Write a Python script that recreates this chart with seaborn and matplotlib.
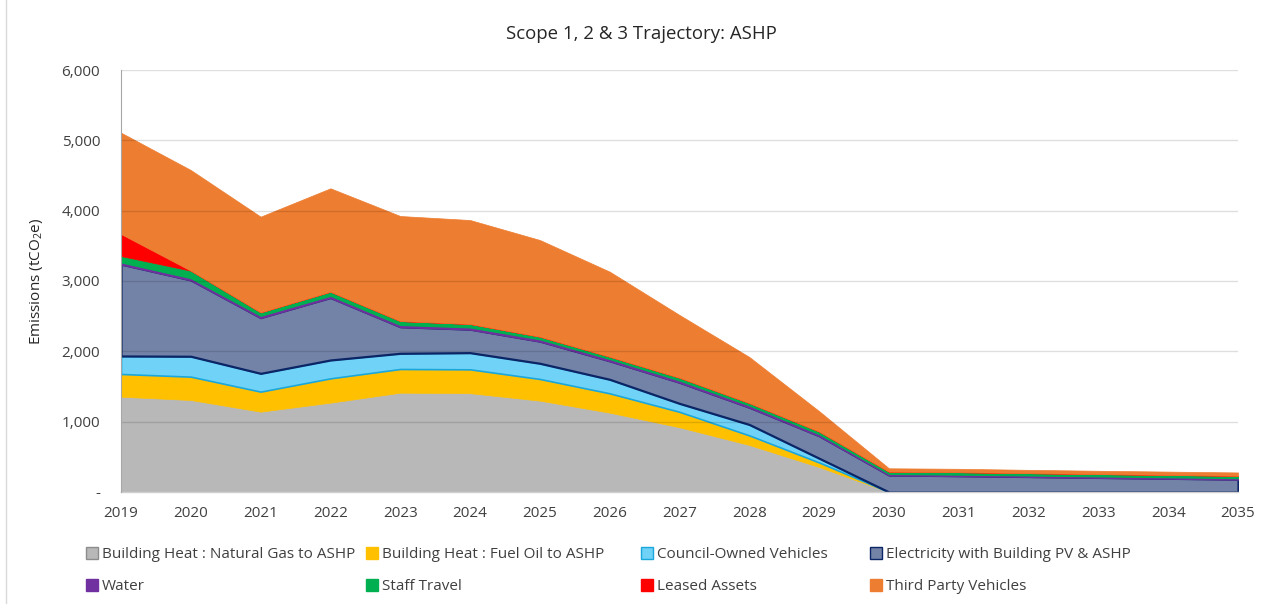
import numpy as np
import matplotlib
matplotlib.use("Agg")
import matplotlib.pyplot as plt
from matplotlib.ticker import FuncFormatter
from matplotlib.patches import Patch
import seaborn as sns

# values (tCO2e)
years = list(range(2019, 2036))
nat_gas_ashp = [1355, 1308, 1142, 1270, 1412, 1405, 1299, 1128, 920, 668, 355, 0, 0, 0, 0, 0, 0]
fuel_oil_ashp = [323, 332, 285, 346, 337, 339, 308, 275, 220, 137, 65, 0, 0, 0, 0, 0, 0]
council_vehicles = [256, 290, 260, 261, 223, 237, 223, 199, 120, 155, 60, 0, 0, 0, 0, 0, 0]
electricity = [1306, 1085, 793, 888, 378, 334, 315, 263, 300, 245, 320, 242, 232, 220, 207, 195, 182]
water = [25, 25, 25, 25, 25, 25, 25, 25, 25, 25, 22, 15, 15, 15, 15, 15, 15]
staff_travel = [90, 107, 50, 58, 56, 49, 39, 34, 40, 35, 38, 32, 35, 33, 33, 33, 33]
leased_assets = [313, 0, 0, 0, 0, 0, 0, 0, 0, 0, 0, 0, 0, 0, 0, 0, 0]
third_party = [1441, 1431, 1360, 1470, 1493, 1478, 1374, 1209, 892, 655, 290, 48, 48, 47, 47, 47, 48]

labels = ["Building Heat : Natural Gas to ASHP", "Building Heat : Fuel Oil to ASHP",
          "Council-Owned Vehicles", "Electricity with Building PV & ASHP",
          "Water", "Staff Travel", "Leased Assets", "Third Party Vehicles"]
faces = ["#b8b8b8", "#ffc000", "#6fd2f6", "#7383a7", "#7030a0", "#00b050", "#ff0000", "#ed7d31"]
edges = ["#b8b8b8", "#ffc000", "#1aa7dc", "#0b2566", "#7030a0", "#00b050", "#ff0000", "#ed7d31"]
widths = [0.5, 0.5, 1.2, 1.6, 1.4, 0.8, 0.5, 0.5]

sns.set_style("white")
plt.rcParams["font.family"] = ["Open Sans", "DejaVu Sans"]
plt.rcParams["mathtext.fontset"] = "custom"
plt.rcParams["mathtext.rm"] = "Open Sans"
plt.rcParams["mathtext.it"] = "Open Sans"

txt = "#404040"
fig = plt.figure(figsize=(12.63, 6.04), dpi=100)
ax = fig.add_axes([121 / 1263, 1 - 492 / 604, (1238 - 121) / 1263, (492 - 70) / 604])

series = [nat_gas_ashp, fuel_oil_ashp, council_vehicles, electricity,
          water, staff_travel, leased_assets, third_party]
polys = ax.stackplot(years, *series, colors=faces, labels=labels)
for p, ec, lw in zip(polys, edges, widths):
    p.set_edgecolor(ec)
    p.set_linewidth(lw)
    p.set_joinstyle("miter")

ax.set_xlim(2019, 2035)
ax.set_ylim(0, 6000)
ax.set_xticks(years)
ax.set_yticks(range(0, 6001, 1000))
ax.yaxis.set_major_formatter(FuncFormatter(lambda v, pos: "-" if v == 0 else f"{v:,.0f}"))

# gridlines drawn over the fills, slightly darkening them like the original
for v in range(1000, 6001, 1000):
    ax.axhline(v, color="black", alpha=0.13, lw=1.0, zorder=5)

for s in ["top", "right"]:
    ax.spines[s].set_visible(False)
ax.spines["left"].set_color("#a6a6a6")
ax.spines["left"].set_linewidth(0.8)
ax.spines["left"].set_zorder(6)
ax.spines["bottom"].set_color("#d0d0d0")
ax.spines["bottom"].set_linewidth(1.0)

ax.tick_params(axis="x", direction="out", length=5, width=1, color="#d0d0d0",
               labelsize=11, labelcolor=txt, pad=5)
ax.tick_params(axis="y", length=0, labelsize=11, labelcolor=txt, pad=15)

ax.set_ylabel("Emissions (tCO$_2$e)", fontsize=11, color="#262626", labelpad=12)
fig.text(641 / 1263, 1 - 34 / 604, "Scope 1, 2 & 3 Trajectory: ASHP",
         ha="center", va="center", fontsize=13.4, color="#262626")

# legend: 4 columns of 2 rows, placed per column like the Excel layout
handles = [Patch(facecolor=f, edgecolor="#8c8c8c" if i == 0 else e, linewidth=1)
           for i, (f, e) in enumerate(zip(faces, edges))]
col_x = [86, 366, 641, 870]
for i, x in enumerate(col_x):
    fig.legend([handles[i], handles[i + 4]], [labels[i], labels[i + 4]],
               loc="upper left", bbox_to_anchor=(x / 1263, 1 - 547 / 604),
               frameon=False, fontsize=11, handlelength=0.8, handleheight=0.8,
               handletextpad=0.25, labelspacing=1.12, borderaxespad=0, borderpad=0,
               labelcolor=txt)

fig.add_artist(plt.Line2D([6 / 1263, 6 / 1263], [0, 1], color="#d9d9d9", lw=1))

fig.savefig("out.png", dpi=100)
